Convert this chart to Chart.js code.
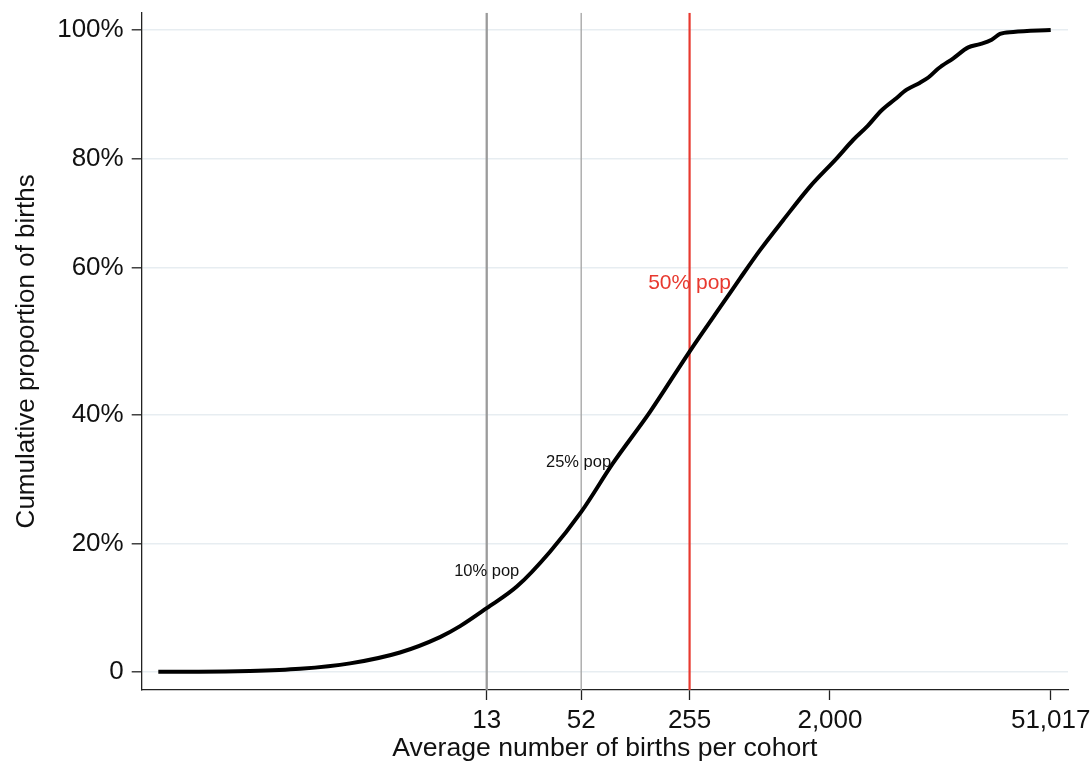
<!DOCTYPE html>
<html>
<head>
<meta charset="utf-8">
<script src="https://cdn.jsdelivr.net/npm/chart.js@4"></script>
<style>
  html, body { margin: 0; padding: 0; background: #ffffff; }
  #wrap { width: 1092px; height: 765px; }
</style>
</head>
<body>
<div id="wrap"><canvas id="c" width="1092" height="765"></canvas></div>
<script>
// ---- data ----
const birthsPerCohort = [0.105, 0.19, 0.40, 0.84, 1.75, 3.64, 6.55, 8.8, 13, 20.3, 32.9, 52, 82.9, 142.7, 255, 429, 535, 717, 1009, 1492, 2208, 2818, 3430, 4273, 5195, 6167, 7497, 8468, 9804, 12218, 15224, 18075, 21462, 24243, 29466, 51017];
const cumulativeShare = [0, 0, 0.1, 0.45, 1.3, 3.0, 5.4, 7.1, 9.9, 13.3, 18.7, 24.9, 32.5, 40.5, 49.9, 57.9, 61.3, 65.7, 70.4, 75.6, 80.0, 82.9, 84.9, 87.5, 89.2, 90.7, 91.8, 92.6, 94.0, 95.6, 97.3, 97.8, 98.5, 99.4, 99.7, 100];

const xTickValues = [13, 52, 255, 2000, 51017];
const xTickLabels = ['13', '52', '255', '2,000', '51,017'];
const yTickValues = [0, 20, 40, 63, 80, 100];
const yTickLabels = ['0', '20%', '40%', '60%', '80%', '100%'];

const refLineX = [13, 52, 255];
const refLabels = ['10% pop', '25% pop', '50% pop'];
const refLabelX = [13, 50, 255];
const refLabelY = [15.6, 32.6, 60.5];

const X_MIN = 0.0823, X_MAX = 65750, Y_MIN = -2.85, Y_MAX = 102.7;

// ---- styling ----
const FONT = '"Liberation Sans", Arial, Helvetica, sans-serif';
const refColors = ['#9b9b9b', '#a9a9a9', '#e8392f'];
const refWidths = [2.3, 1.4, 2.2];
const refFontSizes = [16.5, 16.5, 21];
const refTextColors = ['#111111', '#111111', '#e8392f'];

const curve = birthsPerCohort.map((v, i) => ({ x: v, y: cumulativeShare[i] }));

const datasets = [{
  label: 'cumulative',
  data: curve,
  borderColor: '#000000',
  borderWidth: 4,
  pointRadius: 0,
  cubicInterpolationMode: 'monotone',
  fill: false,
  order: 0
}];
refLineX.forEach((v, i) => {
  datasets.push({
    label: refLabels[i],
    data: [{ x: v, y: Y_MIN }, { x: v, y: Y_MAX }],
    borderColor: refColors[i],
    borderWidth: refWidths[i],
    pointRadius: 0,
    fill: false,
    order: 1
  });
});

const labelPlugin = {
  id: 'refLabels',
  afterDatasetsDraw(chart) {
    const { ctx, scales } = chart;
    ctx.save();
    ctx.textAlign = 'center';
    ctx.textBaseline = 'middle';
    refLabels.forEach((t, i) => {
      ctx.font = refFontSizes[i] + 'px ' + FONT;
      ctx.fillStyle = refTextColors[i];
      ctx.fillText(t, scales.x.getPixelForValue(refLabelX[i]), scales.y.getPixelForValue(refLabelY[i]));
    });
    ctx.restore();
  }
};

new Chart(document.getElementById('c'), {
  type: 'line',
  data: { datasets },
  plugins: [labelPlugin],
  options: {
    responsive: false,
    animation: false,
    devicePixelRatio: 1,
    layout: { padding: { top: 12.7, right: 24, bottom: 0, left: 0 } },
    plugins: { legend: { display: false }, tooltip: { enabled: false } },
    scales: {
      x: {
        type: 'logarithmic',
        min: X_MIN,
        max: X_MAX,
        bounds: 'data',
        afterBuildTicks(s) { s.ticks = xTickValues.map(v => ({ value: v })); },
        afterFit(s) { s.height = 75; s.paddingLeft = 0; s.paddingRight = 0; },
        ticks: {
          autoSkip: false,
          maxRotation: 0,
          padding: 5,
          color: '#111111',
          font: { family: FONT, size: 26 },
          callback(v) { const i = xTickValues.indexOf(v); return i >= 0 ? xTickLabels[i] : ''; }
        },
        grid: { drawOnChartArea: false, drawTicks: true, tickLength: 10, tickColor: '#222222', tickWidth: 1.3 },
        border: { display: true, color: '#222222', width: 1.3 },
        title: {
          display: true,
          text: 'Average number of births per cohort',
          color: '#111111',
          font: { family: FONT, size: 26.6 },
          padding: { top: 0, bottom: 0 }
        }
      },
      y: {
        type: 'linear',
        min: Y_MIN,
        max: Y_MAX,
        afterBuildTicks(s) { s.ticks = yTickValues.map(v => ({ value: v })); },
        afterFit(s) { s.width = 141.7; s.paddingTop = 0; s.paddingBottom = 0; },
        ticks: {
          padding: 8,
          color: '#111111',
          font: { family: FONT, size: 26 },
          callback(v) { const i = yTickValues.indexOf(v); return i >= 0 ? yTickLabels[i] : ''; }
        },
        grid: { color: '#e7edf1', lineWidth: 1.6, drawTicks: true, tickLength: 10, tickColor: '#222222', tickWidth: 1.3 },
        border: { display: true, color: '#222222', width: 1.3 },
        title: {
          display: true,
          text: 'Cumulative proportion of births',
          color: '#111111',
          font: { family: FONT, size: 26 },
          padding: { top: 11, bottom: 0 }
        }
      }
    }
  }
});
</script>
</body>
</html>
